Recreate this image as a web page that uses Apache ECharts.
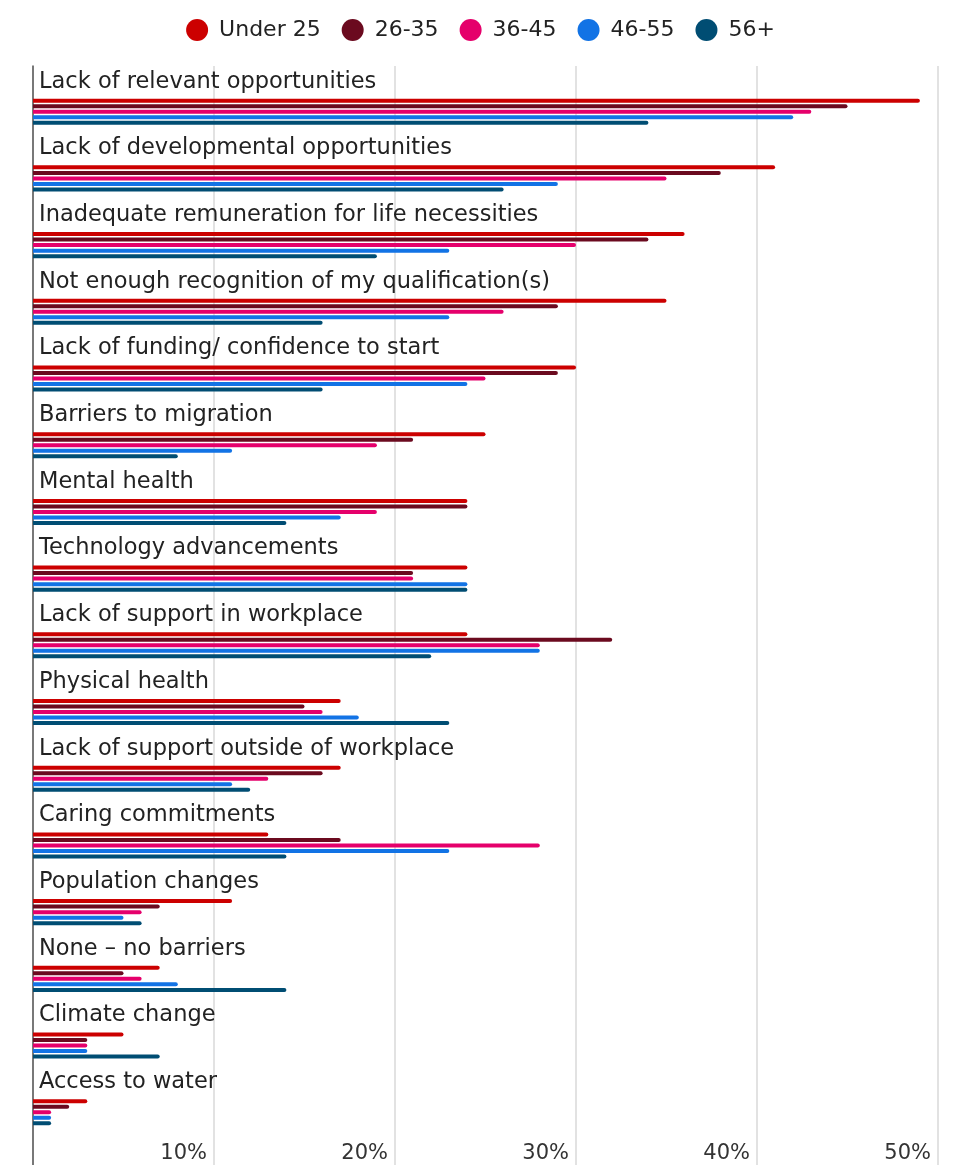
<!DOCTYPE html>
<html>
<head>
<meta charset="utf-8">
<script src="https://cdn.jsdelivr.net/npm/echarts@6/dist/echarts.min.js"></script>
<style>
html,body{margin:0;padding:0;background:#fff;}
#chart{width:961px;height:1165px;}
</style>
</head>
<body>
<div id="chart"></div>
<script>
var categories = [
  "Lack of relevant opportunities",
  "Lack of developmental opportunities",
  "Inadequate remuneration for life necessities",
  "Not enough recognition of my qualification(s)",
  "Lack of funding/ confidence to start",
  "Barriers to migration",
  "Mental health",
  "Technology advancements",
  "Lack of support in workplace",
  "Physical health",
  "Lack of support outside of workplace",
  "Caring commitments",
  "Population changes",
  "None \u2013 no barriers",
  "Climate change",
  "Access to water"
];
var seriesNames = ["Under 25", "26-35", "36-45", "46-55", "56+"];
var under25 = [49, 41, 36, 35, 30, 25, 24, 24, 24, 17, 17, 13, 11, 7, 5, 3];
var age26to35 = [45, 38, 34, 29, 29, 21, 24, 21, 32, 15, 16, 17, 7, 5, 3, 2];
var age36to45 = [43, 35, 30, 26, 25, 19, 19, 21, 28, 16, 13, 28, 6, 6, 3, 1];
var age46to55 = [42, 29, 23, 23, 24, 11, 17, 24, 28, 18, 11, 23, 5, 8, 3, 1];
var age56plus = [34, 26, 19, 16, 16, 8, 14, 24, 22, 23, 12, 14, 6, 14, 7, 1];
var tickValues = [0, 10, 20, 30, 40, 50];
var colors = ["#cc0000", "#6b0a1f", "#e5006b", "#1273e5", "#004d73"];

var values = [under25, age26to35, age36to45, age46to55, age56plus];
var FONT = "DejaVu Sans";

var chart = echarts.init(document.getElementById('chart'));
var series = seriesNames.map(function (name, i) {
  return {
    name: name,
    type: 'bar',
    xAxisIndex: 1,
    yAxisIndex: 1,
    data: values[i],
    barWidth: 4,
    barGap: '38%',
    itemStyle: { color: colors[i], borderRadius: [0, 2, 2, 0] },
    emphasis: { disabled: true }
  };
});

chart.setOption({
  animation: false,
  color: colors,
  legend: {
    data: seriesNames,
    top: 14,
    left: 'center',
    icon: 'circle',
    itemWidth: 22,
    itemHeight: 22,
    itemGap: 21,
    textStyle: { fontFamily: FONT, fontSize: 22, color: '#222', padding: [0, 0, 0, 6] }
  },
  grid: [
    { left: 33, right: 23, top: 66, bottom: 0 },
    { left: 33, right: 23, top: 78.35, bottom: 19.4 }
  ],
  xAxis: [
    {
      type: 'value', gridIndex: 0, min: tickValues[0], max: tickValues[tickValues.length - 1], interval: 10,
      position: 'bottom',
      axisLine: { show: false }, axisTick: { show: false },
      splitLine: { show: true, lineStyle: { color: '#e2e2e2', width: 2 } },
      axisLabel: {
        inside: true, margin: 11, align: 'right', verticalAlign: 'middle',
        padding: [0, 7, 0, 0],
        fontFamily: FONT, fontSize: 21, color: '#333',
        formatter: function (v) { return v === 0 ? '' : v + '%'; }
      }
    },
    {
      type: 'value', gridIndex: 1, min: 0, max: 50, interval: 10,
      axisLine: { show: false }, axisTick: { show: false },
      splitLine: { show: false }, axisLabel: { show: false }
    }
  ],
  yAxis: [
    {
      type: 'value', gridIndex: 0, min: 0, max: 1,
      axisLine: { show: true, lineStyle: { color: '#555', width: 1.5 } },
      axisTick: { show: false }, axisLabel: { show: false }, splitLine: { show: false }
    },
    {
      type: 'category', gridIndex: 1, data: categories, inverse: true,
      axisLine: { show: false }, axisTick: { show: false }, splitLine: { show: false },
      axisLabel: {
        inside: true, margin: 6, align: 'left', verticalAlign: 'bottom',
        lineHeight: 24, padding: [0, 0, 18, 0],
        fontFamily: FONT, fontSize: 22.5, color: '#222'
      }
    }
  ],
  series: series
});
</script>
</body>
</html>
